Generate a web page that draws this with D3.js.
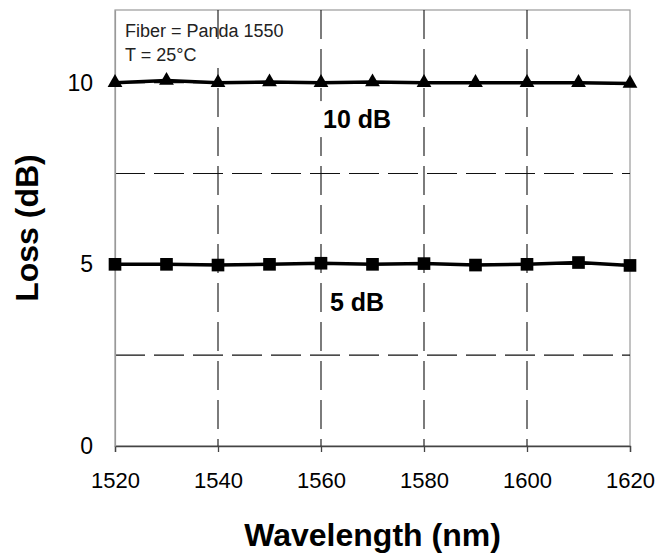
<!DOCTYPE html>
<html>
<head>
<meta charset="utf-8">
<script src="https://cdn.jsdelivr.net/npm/d3@7"></script>
<style>
  body { margin: 0; background: #fff; }
  text { font-family: "Liberation Sans", Arial, sans-serif; }
</style>
</head>
<body>
<div id="chart"></div>
<script>
// data
const wavelengths = [1520, 1530, 1540, 1550, 1560, 1570, 1580, 1590, 1600, 1610, 1620]
const loss10 = [10.0, 10.06, 10.0, 10.02, 10.0, 10.02, 10.0, 10.0, 10.0, 10.0, 9.98]
const loss5 = [5.0, 5.0, 4.98, 5.0, 5.03, 5.0, 5.02, 4.98, 5.0, 5.05, 4.97]
const xTicks = [1520, 1540, 1560, 1580, 1600, 1620]
const yTicks = [0, 5, 10]
const yGrid = [2.5, 5, 7.5, 10]
const xGrid = [1540, 1560, 1580, 1600]
const notes = ["Fiber = Panda 1550", "T = 25°C"]

const width = 661
const height = 555
const margin = {top: 10, right: 31, bottom: 109, left: 115}

const svg = d3.select("#chart").append("svg")
    .attr("width", width)
    .attr("height", height)

const x = d3.scaleLinear().domain([1520, 1620]).range([margin.left, width - margin.right])
const y = d3.scaleLinear().domain([0, 12]).range([height - margin.bottom, margin.top])

// plot frame
svg.append("rect")
    .attr("x", x(1520)).attr("y", y(12))
    .attr("width", x(1620) - x(1520)).attr("height", y(0) - y(12))
    .attr("fill", "none").attr("stroke", "#999").attr("stroke-width", 1.2)

// dashed grid
svg.selectAll("line.vgrid").data(xGrid).join("line")
    .attr("class", "vgrid")
    .attr("x1", d => x(d)).attr("x2", d => x(d))
    .attr("y1", y(12)).attr("y2", y(0))
    .attr("stroke", "#111").attr("stroke-width", 1.1)
    .attr("stroke-dasharray", "29,10")

svg.selectAll("line.hgrid").data(yGrid).join("line")
    .attr("class", "hgrid")
    .attr("x1", x(1520)).attr("x2", x(1620))
    .attr("y1", d => y(d)).attr("y2", d => y(d))
    .attr("stroke", "#111").attr("stroke-width", 1.1)
    .attr("stroke-dasharray", "30,9")

// x axis
const xAxis = svg.append("g")
    .attr("transform", `translate(0,${y(0)})`)
    .call(d3.axisBottom(x).tickValues(xTicks).tickSize(6).tickPadding(20).tickFormat(d3.format("d")))
xAxis.select(".domain").attr("stroke", "#444").attr("stroke-width", 1.3)
xAxis.selectAll(".tick line").attr("stroke", "#444").attr("stroke-width", 1.3)
xAxis.selectAll("text").attr("font-size", 22).attr("fill", "#000")
    .style("font-family", "'Liberation Sans', Arial, sans-serif")

// y axis
const yAxis = svg.append("g")
    .attr("transform", `translate(${x(1520)},0)`)
    .call(d3.axisLeft(y).tickValues(yTicks).tickSize(0).tickPadding(22))
yAxis.select(".domain").attr("stroke", "#999").attr("stroke-width", 1.2)
yAxis.selectAll("text").attr("font-size", 23).attr("fill", "#000")
    .style("font-family", "'Liberation Sans', Arial, sans-serif")

// annotation with white box
const noteG = svg.append("g")
svg.append("rect")
    .attr("x", x(1520) + 6).attr("y", 41)
    .attr("width", 180).attr("height", 27)
    .attr("fill", "#fff")
noteG.raise()
noteG.selectAll("text").data(notes).join("text")
    .attr("x", x(1520) + 10)
    .attr("y", (d, i) => 37 + i * 24)
    .attr("font-size", 18)
    .attr("fill", "#222")
    .text(d => d)

// series
const series = [
    {name: "10 dB", values: loss10, shape: d3.symbolTriangle, size: 95, label: 8.75},
    {name: "5 dB", values: loss5, shape: d3.symbolSquare, size: 160, label: 3.72}
]

const line = d3.line()
    .x((d, i) => x(wavelengths[i]))
    .y(d => y(d))

series.forEach(s => {
    // label with white backing
    const t = svg.append("text")
        .attr("x", x(1567))
        .attr("y", y(s.label))
        .attr("text-anchor", "middle")
        .attr("font-size", 25)
        .attr("font-weight", "bold")
        .attr("fill", "#000")
        .text(s.name)
    const bb = t.node().getBBox()
    svg.insert("rect", () => t.node())
        .attr("x", bb.x - 3).attr("y", bb.y - 4)
        .attr("width", bb.width + 6).attr("height", bb.height + 8)
        .attr("fill", "#fff")

    svg.append("path")
        .attr("d", line(s.values))
        .attr("fill", "none")
        .attr("stroke", "#000")
        .attr("stroke-width", 3.5)

    svg.selectAll(null).data(s.values).join("path")
        .attr("transform", (d, i) => `translate(${x(wavelengths[i])},${y(d)})`)
        .attr("d", d3.symbol().type(s.shape).size(s.size))
        .attr("fill", "#000")
})

// axis titles
svg.append("text")
    .attr("x", (x(1520) + x(1620)) / 2)
    .attr("y", 546)
    .attr("text-anchor", "middle")
    .attr("font-size", 32)
    .attr("font-weight", "bold")
    .text("Wavelength (nm)")

svg.append("text")
    .attr("transform", `translate(38,${(y(0) + y(12)) / 2}) rotate(-90)`)
    .attr("text-anchor", "middle")
    .attr("font-size", 32)
    .attr("font-weight", "bold")
    .text("Loss (dB)")
</script>
</body>
</html>
